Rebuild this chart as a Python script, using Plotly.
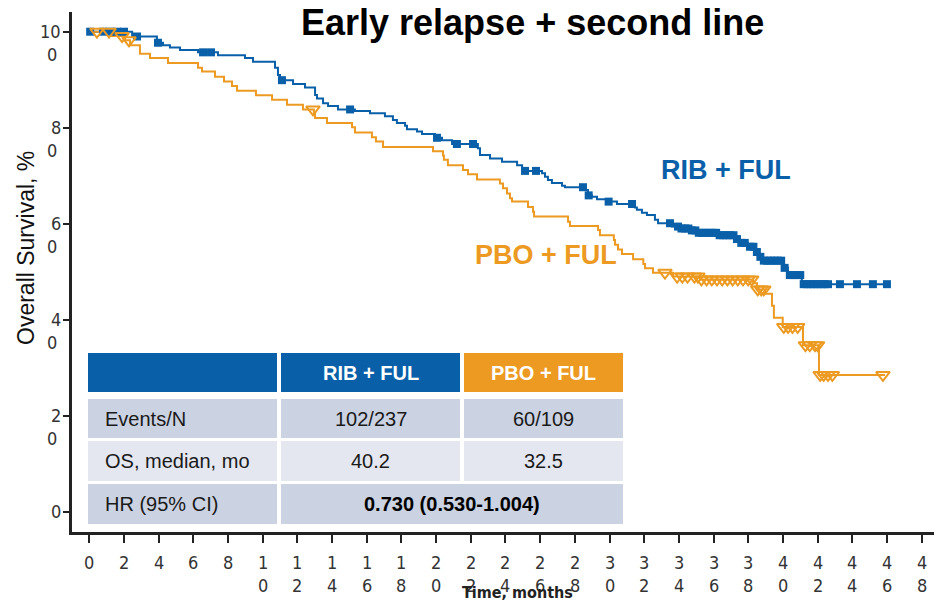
import plotly.graph_objects as go

# ---- Kaplan-Meier data (months, % surviving) ----
rib_times = [2.47, 3.90, 4.25, 4.65, 5.23, 6.27, 7.42, 8.98, 9.44, 10.71, 10.88, 11.0, 11.75, 12.44,
             13.02, 13.13, 13.48, 13.77, 14.34, 15.32, 16.19, 17.05, 17.51, 17.74, 18.21, 18.32, 18.9,
             19.19, 19.94, 20.34, 20.92, 22.41, 22.53, 23.11, 23.8, 24.67, 24.96, 25.07, 26.11, 26.28,
             26.45, 26.68, 27.26, 27.43, 28.58, 28.76, 28.99, 29.28, 29.91, 30.43, 31.47, 31.58, 31.87,
             32.16, 32.62, 32.8, 33.6, 34.07, 34.64, 35.1, 36.2, 37.3, 37.52, 37.99, 38.39, 38.56, 38.79,
             40.01, 40.29, 41.09]
rib_surv = [99.0, 97.7, 97.2, 96.7, 96.2, 95.7, 95.1, 94.5, 93.75, 92.5, 91.0, 89.9, 89.1, 88.4,
            86.8, 86.1, 85.1, 84.5, 83.8, 83.5, 83.0, 82.4, 81.6, 81.0, 80.4, 79.7, 79.2,
            78.7, 77.9, 77.4, 76.6, 75.7, 74.3, 73.6, 72.9, 72.2, 71.5, 71.0, 70.5, 69.8,
            69.1, 68.5, 67.9, 67.6, 67.0, 65.9, 65.6, 65.1, 64.6, 64.1, 63.4, 62.9, 62.3,
            61.8, 60.8, 60.1, 59.4, 59.0, 58.6, 58.1, 57.6, 56.8, 56.0, 55.2, 54.1, 53.1, 52.3,
            50.8, 49.3, 47.4]
rib_last = 46.06
rib_censored = [0.05, 0.79, 1.19, 1.60, 2.0, 2.75, 3.96, 6.56, 7.02, 11.11, 15.04, 20.05, 21.2, 22.13,
                25.13, 25.76, 28.47, 28.8, 29.95, 31.3, 33.49,
                33.95, 34.15, 34.35, 34.55, 34.75, 34.95, 35.15, 35.35, 35.55, 35.75, 35.95, 36.15,
                36.35, 36.55, 36.75, 36.95, 37.15, 37.35,
                37.6, 37.8, 38.1, 38.3, 38.5, 38.7, 38.9, 39.1, 39.3, 39.5, 39.7, 39.9, 40.1, 40.4,
                40.6, 40.8, 41.0, 41.2, 41.4, 41.6, 41.8, 42.0, 42.2, 42.4, 42.6,
                43.29, 44.27, 45.19, 46.0]

pbo_times = [1.31, 2.06, 2.35, 2.92, 3.50, 4.54, 6.27, 6.50, 7.25, 7.77, 8.23, 8.52, 9.61, 10.54,
             11.4, 12.32, 12.95, 13.02, 13.71, 15.15, 15.32, 16.30, 16.53, 16.94, 19.82, 20.40, 20.45,
             20.68, 21.55, 21.84, 22.36, 23.68, 23.86, 24.09, 24.26, 24.38, 25.3, 25.59, 25.65, 27.61,
             27.72, 29.34, 29.45, 30.25, 30.32, 30.49, 30.72, 31.36, 31.95, 32.05, 32.51, 33.66, 35.22,
             38.28, 38.51, 38.97, 39.37, 39.48, 39.99, 41.16, 42.08]
pbo_surv = [99.1, 98.2, 97.2, 95.4, 94.5, 93.5, 92.5, 91.7, 90.6, 89.6, 88.7, 87.7, 86.75, 85.8,
            84.8, 83.8, 82.9, 82.0, 81.0, 80.1, 79.0, 78.0, 77.1, 76.0, 75.1, 74.2, 73.3,
            72.2, 71.2, 70.3, 69.2, 68.4, 67.4, 66.3, 65.3, 64.6, 63.5, 62.5, 61.5, 60.4,
            59.5, 58.7, 57.6, 56.6, 55.6, 54.6, 53.7, 52.6, 51.6, 50.7, 49.8, 49.0, 48.4,
            47.6, 46.3, 45.4, 42.9, 40.4, 38.5, 34.7, 28.5]
pbo_last = 45.89
pbo_censored = [0.44, 1.14, 1.89, 2.29, 12.9, 33.2,
                33.9, 34.2, 34.5, 34.9, 35.1,
                35.3, 35.6, 35.9, 36.2, 36.5, 36.8, 37.1, 37.4, 37.7, 38.0, 38.2,
                38.55, 38.75, 38.9,
                40.05, 40.3, 40.55, 40.85,
                41.3, 41.55, 41.85, 42.0,
                42.15, 42.35, 42.6, 42.85,
                45.77]

x_ticks = list(range(0, 49, 2))
y_ticks = [0, 20, 40, 60, 80, 100]

table_header = ["", "RIB + FUL", "PBO + FUL"]
table_rows = [
    ["Events/N", "102/237", "60/109"],
    ["OS, median, mo", "40.2", "32.5"],
]
hr_label = "HR (95% CI)"
hr_value = "0.730 (0.530-1.004)"

BLUE = "#0A60A8"
ORANGE = "#EC9A22"
ROW_DARK = "#CBD2E2"
ROW_LIGHT = "#E4E7F0"
INK = "#1A1A1A"
SANS = "Liberation Sans, Arial, sans-serif"
NARROW = "Liberation Sans Narrow, Arial Narrow, DejaVu Sans Condensed, sans-serif"

W, H = 935, 605
M_L, M_R, M_T, M_B = 72, 1, 12, 73


def px(x):
    return (x - M_L) / (W - M_L - M_R)


def py(y):
    return (H - M_B - y) / (H - M_T - M_B)


def step_value(times, surv, t):
    v = 100.0
    for ti, si in zip(times, surv):
        if ti <= t:
            v = si
        else:
            break
    return v


fig = go.Figure()

# survival curves
fig.add_trace(go.Scatter(
    x=[0] + rib_times + [rib_last], y=[100] + rib_surv + [rib_surv[-1]],
    mode="lines", line=dict(color=BLUE, width=2, shape="hv"), name="RIB + FUL"))
fig.add_trace(go.Scatter(
    x=[0] + pbo_times + [pbo_last], y=[100] + pbo_surv + [pbo_surv[-1]],
    mode="lines", line=dict(color=ORANGE, width=2, shape="hv"), name="PBO + FUL"))

# censoring marks
fig.add_trace(go.Scatter(
    x=rib_censored, y=[step_value(rib_times, rib_surv, t) for t in rib_censored],
    mode="markers", marker=dict(symbol="square", size=8, color=BLUE), name="RIB censored"))
fig.add_trace(go.Scatter(
    x=pbo_censored, y=[step_value(pbo_times, pbo_surv, t) for t in pbo_censored],
    mode="markers",
    marker=dict(symbol="triangle-down-open", size=12, color=ORANGE, line=dict(width=2, color=ORANGE)),
    name="PBO censored"))

annotations = []
shapes = []

tick_font = dict(family=NARROW, size=18, color="#333")

# tick labels: the last digit wraps onto its own line
for t in x_ticks:
    s = str(t)
    lines = [s] if len(s) == 1 else [s[:-1], s[-1]]
    for i, part in enumerate(lines):
        annotations.append(dict(x=t, xref="x", y=py(562 + 23 * i), yref="paper", text=part,
                                showarrow=False, xanchor="center", yanchor="middle", font=tick_font))
for v in y_ticks:
    s = str(v)
    if len(s) == 1:
        annotations.append(dict(x=px(63), xref="paper", y=v, yref="y", text=s, showarrow=False,
                                xanchor="right", yanchor="middle", font=tick_font))
    else:
        annotations.append(dict(x=px(63), xref="paper", y=v, yref="y", text=s[:-1], showarrow=False,
                                xanchor="right", yanchor="middle", font=tick_font))
        annotations.append(dict(x=px(52), xref="paper", y=v, yref="y", yshift=-23, text=s[-1],
                                showarrow=False, xanchor="center", yanchor="middle", font=tick_font))

# titles
annotations.append(dict(x=px(532), y=py(22), xref="paper", yref="paper", text="<b>Early relapse + second line</b>",
                        showarrow=False, xanchor="center", yanchor="middle",
                        font=dict(family=SANS, size=36, color="#000")))
annotations.append(dict(x=px(517), y=py(592), xref="paper", yref="paper", text="<b>Time, months</b>",
                        showarrow=False, xanchor="center", yanchor="middle",
                        font=dict(family=NARROW, size=16, color="#222")))
annotations.append(dict(x=px(26), y=py(248), xref="paper", yref="paper", text="Overall Survival, %",
                        textangle=-90, showarrow=False, xanchor="center", yanchor="middle",
                        font=dict(family=SANS, size=23, color="#111")))

# curve labels
annotations.append(dict(x=px(726), y=py(170), xref="paper", yref="paper", text="<b>RIB + FUL</b>",
                        showarrow=False, xanchor="center", yanchor="middle",
                        font=dict(family=SANS, size=27, color=BLUE)))
annotations.append(dict(x=px(546), y=py(255), xref="paper", yref="paper", text="<b>PBO + FUL</b>",
                        showarrow=False, xanchor="center", yanchor="middle",
                        font=dict(family=SANS, size=27, color=ORANGE)))

# summary table
cols = [(88, 277), (281, 460), (464, 623)]
header_band = (353, 392)
row_bands = [(399, 438), (441, 481)]
hr_band = (484, 524)
cell_font = dict(family=SANS, size=20, color=INK)


def rect(x0, x1, y0, y1, color):
    shapes.append(dict(type="rect", xref="paper", yref="paper", x0=px(x0), x1=px(x1),
                       y0=py(y1), y1=py(y0), fillcolor=color, line=dict(width=0), layer="above"))


header_colors = [BLUE, BLUE, ORANGE]
for (c0, c1), col_color, label in zip(cols, header_colors, table_header):
    rect(c0, c1, header_band[0], header_band[1], col_color)
    if label:
        annotations.append(dict(x=px((c0 + c1) / 2), y=py(sum(header_band) / 2), xref="paper", yref="paper",
                                text=f"<b>{label}</b>", showarrow=False, xanchor="center", yanchor="middle",
                                font=dict(family=SANS, size=20, color="white")))

for (r0, r1), fill, row in zip(row_bands, [ROW_DARK, ROW_LIGHT], table_rows):
    for ci, ((c0, c1), cell) in enumerate(zip(cols, row)):
        rect(c0, c1, r0, r1, fill)
        if ci == 0:
            annotations.append(dict(x=px(103), y=py((r0 + r1) / 2), xref="paper", yref="paper", text=cell,
                                    showarrow=False, xanchor="left", yanchor="middle", font=cell_font))
        else:
            annotations.append(dict(x=px((c0 + c1) / 2), y=py((r0 + r1) / 2), xref="paper", yref="paper",
                                    text=cell, showarrow=False, xanchor="center", yanchor="middle",
                                    font=cell_font))

rect(cols[0][0], cols[0][1], hr_band[0], hr_band[1], ROW_DARK)
rect(cols[1][0], cols[2][1], hr_band[0], hr_band[1], ROW_DARK)
annotations.append(dict(x=px(103), y=py(sum(hr_band) / 2), xref="paper", yref="paper", text=hr_label,
                        showarrow=False, xanchor="left", yanchor="middle", font=cell_font))
annotations.append(dict(x=px((cols[1][0] + cols[2][1]) / 2), y=py(sum(hr_band) / 2), xref="paper", yref="paper",
                        text=f"<b>{hr_value}</b>", showarrow=False, xanchor="center", yanchor="middle",
                        font=dict(family=SANS, size=20, color="#000")))

x_px_per_month = 17.34
y_px_per_pct = 4.80
x0_px = 89.3
y0_px = 511.7
x_range = [(M_L - x0_px) / x_px_per_month, (W - M_R - x0_px) / x_px_per_month]
y_range = [(y0_px - (H - M_B)) / y_px_per_pct, (y0_px - M_T) / y_px_per_pct]

fig.update_layout(
    width=W, height=H,
    margin=dict(l=M_L, r=M_R, t=M_T, b=M_B),
    paper_bgcolor="white", plot_bgcolor="white",
    showlegend=False,
    annotations=annotations,
    shapes=shapes,
    xaxis=dict(range=x_range, tickvals=x_ticks, showticklabels=False, ticks="outside", ticklen=8,
               tickwidth=2, tickcolor="#222", showline=True, linewidth=2.5, linecolor="#222",
               showgrid=False, zeroline=False, fixedrange=True),
    yaxis=dict(range=y_range, tickvals=y_ticks, showticklabels=False, ticks="outside", ticklen=6,
               tickwidth=1.5, tickcolor="#222", showline=True, linewidth=2.5, linecolor="#222",
               showgrid=False, zeroline=False, fixedrange=True),
)

fig.write_html("out.html")
